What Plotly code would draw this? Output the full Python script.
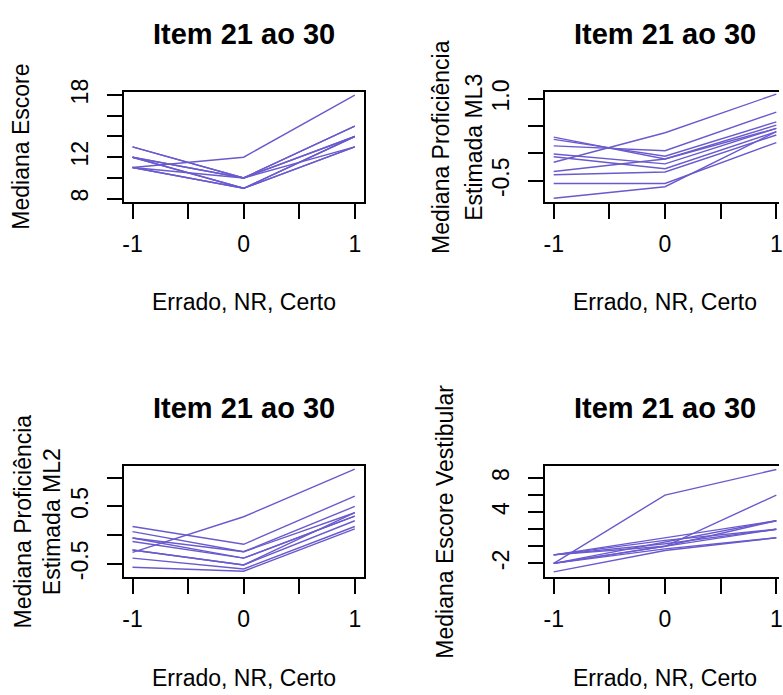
import plotly.graph_objects as go

# Response categories: Errado (-1), NR (0), Certo (1)
categorias = [-1, 0, 1]
itens = ["Item 21", "Item 22", "Item 23", "Item 24", "Item 25",
         "Item 26", "Item 27", "Item 28", "Item 29", "Item 30"]

# Median score per response category, one row per item
mediana_escore = [
    [11, 12, 18], [13, 10, 15], [12, 10, 14], [12, 9, 14], [11, 9, 13],
    [12, 10, 13], [11, 10, 14], [12, 9, 13], [11, 9, 14], [13, 10, 15],
]
# Median estimated proficiency (ML3)
mediana_ml3 = [
    [-0.16, 0.38, 1.09], [0.30, -0.10, 0.52], [0.26, -0.05, 0.58],
    [0.14, 0.05, 0.76], [-0.01, -0.19, 0.46], [-0.06, -0.28, 0.40],
    [-0.33, -0.10, 0.46], [-0.39, -0.34, 0.34], [-0.55, -0.55, 0.20],
    [-0.82, -0.61, 0.40],
]
# Median estimated proficiency (ML2)
mediana_ml2 = [
    [-0.30, 0.32, 1.15], [0.15, -0.16, 0.68], [0.06, -0.29, 0.50],
    [-0.05, -0.29, 0.39], [-0.11, -0.40, 0.33], [-0.26, -0.52, 0.25],
    [-0.05, -0.40, 0.33], [-0.40, -0.59, 0.15], [-0.56, -0.63, 0.11],
    [-0.26, -0.52, 0.39],
]
# Median entrance-exam score
mediana_vestibular = [
    [-2, 6, 9], [-1, 0, 6], [-1, 1.0, 3], [-2, 0.5, 3], [-2, 0, 2],
    [-1, 0.3, 2], [-2, -0.3, 1], [-3, -0.5, 1], [-2, 0, 3], [-1, 0.7, 2],
]

x_tickvals = [-1, -0.5, 0, 0.5, 1]
x_ticktext = ["-1", "", "0", "", "1"]

titulo = "Item 21 ao 30"
rotulo_x = "Errado, NR, Certo"

W, H = 783, 695
LINE_COLOR = "#6A5ACD"
FONT = "Liberation Sans, Arial, sans-serif"


def fx(p):
    return p / W


def fy(p):
    return 1 - p / H


panels = [
    dict(data=mediana_escore, yt=[8, 10, 12, 14, 16, 18],
         ytt=["8", "", "12", "", "", "18"], yr=[7.69, 18.31],
         xd=(123.4, 365.0), yd=(80.7, 193.3), xr=[-1.08, 1.08], right=False,
         ylab=["Mediana Escore"], ylabx=[20]),
    dict(data=mediana_ml3, yt=[-0.5, 0, 0.5, 1.0],
         ytt=["-0.5", "", "", "1.0"], yr=[-0.887, 1.131],
         xd=(547.3, 783), yd=(80.7, 193.3), xr=[-1.08, 1.024], right=True,
         ylab=["Mediana Proficiência", "Estimada ML3"], ylabx=[443, 476]),
    dict(data=mediana_ml2, yt=[-0.5, 0, 0.5, 1.0],
         ytt=["-0.5", "", "0.5", ""], yr=[-0.730, 1.204],
         xd=(123.4, 365.0), yd=(463.7, 577.3), xr=[-1.08, 1.08], right=False,
         ylab=["Mediana Proficiência", "Estimada ML2"], ylabx=[22, 51]),
    dict(data=mediana_vestibular, yt=[-2, 0, 2, 4, 6, 8],
         ytt=["-2", "", "", "4", "", "8"], yr=[-3.60, 9.41],
         xd=(547.3, 783), yd=(463.7, 577.3), xr=[-1.08, 1.024], right=True,
         ylab=["Mediana Escore Vestibular"], ylabx=[446]),
]

fig = go.Figure()
annotations = []

for i, p in enumerate(panels, start=1):
    xa = "x" if i == 1 else f"x{i}"
    ya = "y" if i == 1 else f"y{i}"
    for nome, serie in zip(itens, p["data"]):
        fig.add_trace(go.Scatter(
            x=categorias, y=serie, mode="lines", name=nome,
            line=dict(color=LINE_COLOR, width=1.4),
            xaxis=xa, yaxis=ya, showlegend=False, cliponaxis=True,
        ))

    axis_common = dict(showgrid=False, zeroline=False, showline=True,
                       linecolor="black", linewidth=1.6, ticks="outside",
                       ticklen=15, tickwidth=1.6, tickcolor="black",
                       tickfont=dict(family=FONT, size=23, color="black"),
                       ticklabeloverflow="allow", fixedrange=True)
    xkey = "xaxis" if i == 1 else f"xaxis{i}"
    ykey = "yaxis" if i == 1 else f"yaxis{i}"
    fig.update_layout(**{
        xkey: dict(axis_common, domain=[fx(p["xd"][0]), fx(p["xd"][1])],
                   range=p["xr"], anchor=ya, mirror=True,
                   tickmode="array", tickvals=x_tickvals, ticktext=x_ticktext,
                   ticklabelstandoff=6),
        ykey: dict(axis_common, domain=[fy(p["yd"][1]), fy(p["yd"][0])],
                   range=p["yr"], anchor=xa, mirror=not p["right"],
                   tickmode="array", tickvals=p["yt"], ticktext=p["ytt"],
                   tickangle=-90, ticklabelstandoff=10),
    })

    cx = 244.2 if not p["right"] else 668.3
    top, bottom = p["yd"]
    cy = (top + bottom) / 2
    annotations.append(dict(
        text=f"<b>{titulo}</b>", x=fx(cx), y=fy(top - 59), xref="paper",
        yref="paper", xanchor="center", yanchor="middle", showarrow=False,
        font=dict(family=FONT, size=29, color="black")))
    annotations.append(dict(
        text=rotulo_x, x=fx(cx), y=fy(bottom + 103), xref="paper",
        yref="paper", xanchor="center", yanchor="middle", showarrow=False,
        font=dict(family=FONT, size=23, color="black")))
    for lab, lx in zip(p["ylab"], p["ylabx"]):
        annotations.append(dict(
            text=lab, x=fx(lx), y=fy(cy), xref="paper", yref="paper",
            xanchor="center", yanchor="middle", textangle=-90,
            showarrow=False, font=dict(family=FONT, size=23, color="black")))

fig.update_layout(
    width=W, height=H, margin=dict(l=0, r=0, t=0, b=0),
    paper_bgcolor="white", plot_bgcolor="white",
    annotations=annotations, showlegend=False,
)

fig.write_html("out.html")
